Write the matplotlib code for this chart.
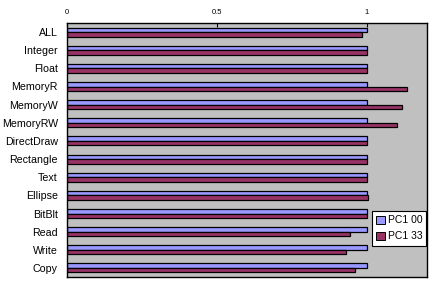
import matplotlib
matplotlib.use("Agg")
import matplotlib.pyplot as plt
import numpy as np

plt.rcParams["font.family"] = ["Liberation Sans", "DejaVu Sans"]

categories = ["ALL", "Integer", "Float", "MemoryR", "MemoryW", "MemoryRW",
              "DirectDraw", "Rectangle", "Text", "Ellipse", "BitBlt",
              "Read", "Write", "Copy"]
pc100 = [1.0, 1.0, 1.0, 1.0, 1.0, 1.0, 1.0, 1.0, 1.0, 1.0, 1.0, 1.0, 1.0, 1.0]
pc133 = [0.983, 1.0, 1.0, 1.133, 1.118, 1.100, 1.0, 1.0, 1.0, 1.003, 1.0,
         0.943, 0.931, 0.960]
series_names = ["PC1 00", "PC1 33"]
xticks = [0, 0.5, 1]
xtick_labels = ["0", "0.5", "1"]

fig = plt.figure(figsize=(4.37, 2.82), dpi=100)
# axes box in pixels: left 67, right 427, top 23, bottom 277
ax = fig.add_axes([67/437, 1-277/282, 360/437, 254/282])
ax.set_facecolor("#C0C0C0")

y = np.arange(len(categories))
h = 0.25
ax.barh(y - h/2, pc100, height=h, color="#9999FF", edgecolor="black",
        linewidth=0.9, label=series_names[0])
ax.barh(y + h/2, pc133, height=h, color="#993366", edgecolor="black",
        linewidth=0.9, label=series_names[1])

ax.set_xlim(0, 1.2)
ax.set_ylim(len(categories) - 0.5, -0.5)
ax.set_yticks(y)
ax.set_yticklabels(categories, fontsize=7.7)
ax.tick_params(axis="y", length=0, pad=6.5)
ax.xaxis.tick_top()
ax.set_xticks(xticks)
ax.set_xticklabels(xtick_labels, fontsize=5.5)
ax.tick_params(axis="x", direction="in", length=3, width=0.8, pad=5)
for s in ax.spines.values():
    s.set_linewidth(1.0)

leg = ax.legend(loc="upper left",
                bbox_to_anchor=((372-67)/360, 1 - (211-23)/254),
                bbox_transform=ax.transAxes, fontsize=7.5, frameon=True,
                fancybox=False, edgecolor="black", framealpha=1,
                handlelength=0.8, handleheight=0.8, handletextpad=0.3,
                borderpad=0.4, labelspacing=0.6, borderaxespad=0)
leg.get_frame().set_linewidth(0.8)
for p in leg.get_patches():
    p.set_linewidth(0.7)

fig.savefig("out.png", dpi=100)
